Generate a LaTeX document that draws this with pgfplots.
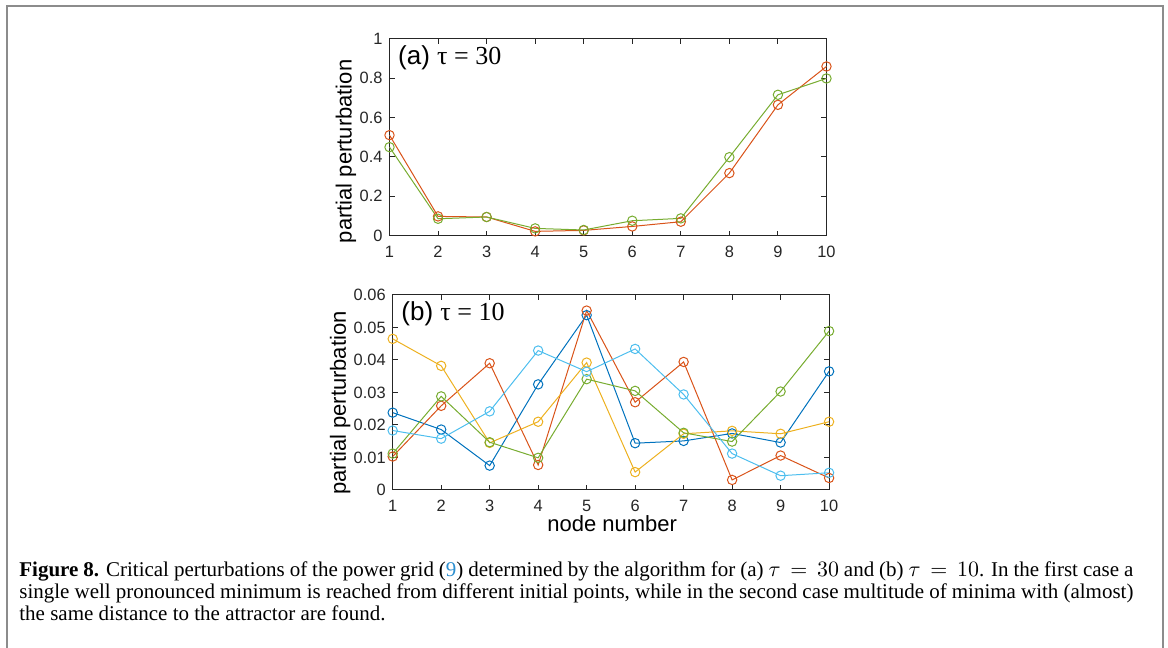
\documentclass[border=0pt]{standalone}
\usepackage{fontspec}
\setmainfont{Liberation Serif}
\setsansfont{Liberation Sans}
\newfontfamily\plotserif{Liberation Serif}
\usepackage{pgfplots}
\pgfplotsset{compat=1.18}
\definecolor{mblue}{HTML}{0072BD}
\definecolor{morange}{HTML}{D95319}
\definecolor{myellow}{HTML}{EDB120}
\definecolor{mgreen}{HTML}{77AC30}
\definecolor{mcyan}{HTML}{4DBEEE}
\definecolor{axgray}{HTML}{262626}
\definecolor{framegray}{HTML}{8C8C8C}
\definecolor{linkblue}{HTML}{2C8FD0}

\pgfplotstableread{
x a1 a2
1 0.511 0.450
2 0.098 0.086
3 0.095 0.095
4 0.022 0.037
5 0.027 0.029
6 0.047 0.076
7 0.071 0.088
8 0.318 0.399
9 0.665 0.716
10 0.860 0.799
}\tauthirty

\pgfplotstableread{
x blue orange yellow green cyan
1 0.0238 0.0103 0.0465 0.0112 0.0183
2 0.0186 0.0259 0.0382 0.0288 0.0158
3 0.0075 0.0390 0.0145 0.0147 0.0242
4 0.0325 0.0077 0.0210 0.0099 0.0429
5 0.0538 0.0552 0.0392 0.0341 0.0364
6 0.0144 0.0270 0.0055 0.0305 0.0434
7 0.0151 0.0394 0.0173 0.0176 0.0294
8 0.0174 0.0031 0.0182 0.0149 0.0112
9 0.0146 0.0106 0.0173 0.0303 0.0044
10 0.0365 0.0037 0.0210 0.0489 0.0053
}\tauten

\pgfplotsset{
  mystyle/.style={
    scale only axis,
    clip=false,
    scaled y ticks=false,
    scaled x ticks=false,
    axis line style={axgray, line width=0.5pt},
    tick style={axgray, line width=0.5pt},
    tick align=inside,
    major tick length=2.5pt,
    xmin=1, xmax=10,
    xtick={1,...,10},
    ticklabel style={font=\sffamily\fontsize{8.2}{9}\selectfont, text=axgray},
    xticklabel style={yshift=-1.5pt},
    /pgf/number format/assume math mode=true,
    label style={font=\sffamily\fontsize{11}{12}\selectfont, text=black},
    every axis plot/.append style={line width=0.5pt, mark=o, mark size=2.35pt, mark options={solid}},
  }
}

\begin{document}
\begin{tikzpicture}
\useasboundingbox (0,0) rectangle (584pt,324pt);
% frame
\draw[framegray, line width=0.75pt] (3.5pt,0) -- (3.5pt,321pt) -- (581.5pt,321pt) -- (581.5pt,0);

% top axis
\begin{axis}[mystyle,
  at={(194.75pt,206.15pt)}, anchor=south west,
  width=218.5pt, height=98.4pt,
  ymin=0, ymax=1,
  ytick={0,0.2,0.4,0.6,0.8,1},
  yticklabels={0,0.2,0.4,0.6,0.8,1},
  ylabel={partial perturbation},
  ylabel style={at={(axis description cs:-0.0996,0.4286)}, anchor=center},
]
\addplot[morange] table[x=x, y=a1] {\tauthirty};
\addplot[mgreen] table[x=x, y=a2] {\tauthirty};
\node[anchor=west, font=\sffamily\fontsize{13}{14}\selectfont, inner sep=0pt] at (axis description cs:0.019,0.905) {(a) {\plotserif τ = 30}};
\end{axis}

% bottom axis
\begin{axis}[mystyle,
  at={(196.35pt,79pt)}, anchor=south west,
  width=218.2pt, height=97.5pt,
  ymin=0, ymax=0.06,
  ytick={0,0.01,0.02,0.03,0.04,0.05,0.06},
  yticklabels={0,0.01,0.02,0.03,0.04,0.05,0.06},
  ylabel={partial perturbation},
  ylabel style={at={(axis description cs:-0.1205,0.446)}, anchor=center},
  xlabel={node number},
  xlabel style={at={(axis description cs:0.503,-0.172)}, anchor=center},
]
\addplot[mblue] table[x=x, y=blue] {\tauten};
\addplot[morange] table[x=x, y=orange] {\tauten};
\addplot[myellow] table[x=x, y=yellow] {\tauten};
\addplot[mgreen] table[x=x, y=green] {\tauten};
\addplot[mcyan] table[x=x, y=cyan] {\tauten};
\node[anchor=west, font=\sffamily\fontsize{13}{14}\selectfont, inner sep=0pt] at (axis description cs:0.019,0.905) {(b) {\plotserif τ = 10}};
\end{axis}

% caption
\begin{scope}[every node/.style={anchor=base west, inner sep=0pt, font=\fontsize{10.5}{11}\selectfont}]
\node at (9.5pt,35.5pt) {\makebox[557pt][s]{\textbf{Figure 8.} Critical perturbations of the power grid (\textcolor{linkblue}{9}) determined by the algorithm for (a) $\tau\,=\,30$ and (b) $\tau\,=\,10$. In the first case a}};
\node at (9.5pt,24.5pt) {\makebox[557pt][s]{single well pronounced minimum is reached from different initial points, while in the second case multitude of minima with (almost)}};
\node at (9.5pt,13.5pt) {the same distance to the attractor are found.};
\end{scope}
\end{tikzpicture}
\end{document}
